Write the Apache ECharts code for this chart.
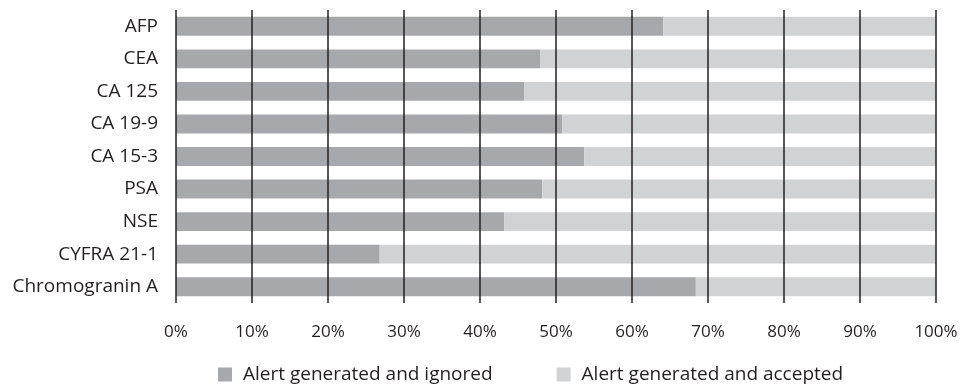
<!DOCTYPE html>
<html>
<head>
<meta charset="utf-8">
<script src="https://cdn.jsdelivr.net/npm/echarts@6/dist/echarts.min.js"></script>
<style>
  html, body { margin: 0; padding: 0; background: #fff; }
  #chart { width: 961px; height: 385px; }
</style>
</head>
<body>
<div id="chart"></div>
<script>
// top to bottom as in the picture
const markers = ['AFP', 'CEA', 'CA 125', 'CA 19-9', 'CA 15-3', 'PSA', 'NSE', 'CYFRA 21-1', 'Chromogranin A']
const ignored = [64.1, 47.9, 45.8, 50.8, 53.7, 48.2, 43.2, 26.8, 68.4]
const accepted = ignored.map(v => +(100 - v).toFixed(1))
const seriesNames = ['Alert generated and ignored', 'Alert generated and accepted']
const colors = ['#a7a8ab', '#d1d2d4']

const chart = echarts.init(document.getElementById('chart'))
const font = '"Open Sans", "Noto Sans", sans-serif'

chart.setOption({
  animation: false,
  textStyle: { fontFamily: font },
  grid: { left: 176, right: 25, top: 10, bottom: 82 },
  legend: {
    top: 360,
    left: 213,
    itemGap: 64,
    itemWidth: 14,
    itemHeight: 14,
    icon: 'rect',
    textStyle: { fontSize: 19, color: '#231f20', fontFamily: font, padding: [0, 0, 0, 6] },
    data: seriesNames
  },
  xAxis: {
    type: 'value',
    min: 0,
    max: 100,
    interval: 10,
    z: 5,
    axisLine: { show: false },
    axisTick: { show: false },
    axisLabel: { formatter: '{value}%', fontSize: 17, color: '#231f20', margin: 21 },
    splitLine: { lineStyle: { color: '#231f20', width: 1.5 } }
  },
  yAxis: {
    type: 'category',
    inverse: true,
    data: markers,
    axisLine: { show: false },
    axisTick: { show: false },
    axisLabel: { fontSize: 19, color: '#231f20', margin: 18 }
  },
  series: [
    { name: seriesNames[0], type: 'bar', stack: 'a', barWidth: '58%', itemStyle: { color: colors[0] }, data: ignored },
    { name: seriesNames[1], type: 'bar', stack: 'a', barWidth: '58%', itemStyle: { color: colors[1] }, data: accepted }
  ]
})
</script>
</body>
</html>
